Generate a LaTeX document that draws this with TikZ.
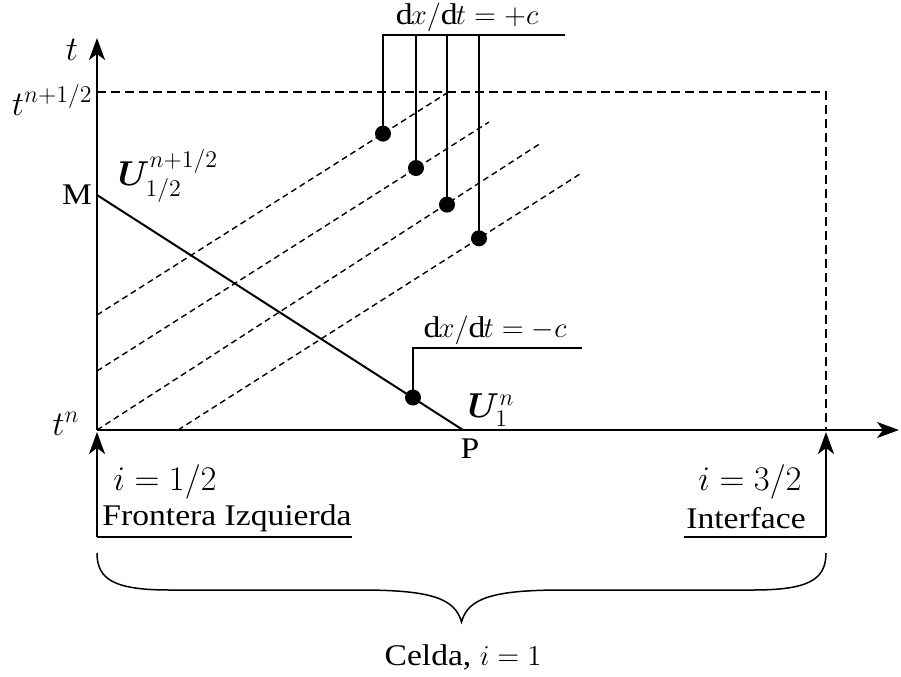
\documentclass[tikz,border=0pt]{standalone}
\usepackage{fontspec}
\setmainfont[FakeStretch=1.12]{Liberation Serif}
\usepackage{amsmath}
\usepackage{bm}
\usetikzlibrary{arrows.meta}
\tikzset{
  axis/.style={line width=1pt},
  solidln/.style={line width=1pt},
  leader/.style={line width=0.75pt},
  charln/.style={line width=0.7pt, dash pattern=on 3pt off 2pt},
  boxln/.style={line width=0.8pt, dash pattern=on 4.5pt off 2.5pt},
  tip/.style={-{Stealth[length=11pt,width=8pt,inset=3pt]}},
  dot/.style={circle, fill=black, inner sep=0pt, minimum size=8pt},
  lbl/.style={inner sep=0pt, font=\fontsize{15}{18}\selectfont},
  mlbl/.style={inner sep=0pt, font=\fontsize{16.5}{20}\selectfont},
}
\begin{document}
\begin{tikzpicture}[x=0.5pt,y=-0.5pt]
\useasboundingbox (0,0) rectangle (901,676);
% coordinates
\coordinate (O) at (97,430);
\coordinate (T) at (97,38);
\coordinate (X) at (899,430);
\coordinate (M) at (97,195);
\coordinate (P) at (463,430);
\coordinate (BL) at (97,537);
\coordinate (BR) at (826,537);
\coordinate (BLe) at (352,537);
\coordinate (BRs) at (684,537);
\coordinate (TL) at (97,92);
\coordinate (TR) at (826,92);
\coordinate (XR) at (826,430);
\coordinate (A1) at (97,315);  \coordinate (A2) at (447,93);
\coordinate (B1) at (97,371);  \coordinate (B2) at (489,122);
\coordinate (C2) at (541,143);
\coordinate (D1) at (178,430); \coordinate (D2) at (580,174);
\coordinate (H1) at (383,35);  \coordinate (H2) at (565,35);
\coordinate (L1) at (413,348); \coordinate (L2) at (582,348);

% dashed box
\draw[boxln] (TL) -- (TR) -- (XR);
% characteristic lines
\draw[charln] (A1) -- (A2);
\draw[charln] (B1) -- (B2);
\draw[charln] (O) -- (C2);
\draw[charln] (D1) -- (D2);
% M-P line
\draw[solidln] (M) -- (P);
% axes
\draw[axis,tip] (O) -- (T);
\draw[axis,tip] (O) -- (X);

% dots
\node[dot] (d1) at (383,133.6) {};
\node[dot] (d2) at (416,168) {};
\node[dot] (d3) at (447,204.6) {};
\node[dot] (d4) at (479,238.3) {};
\node[dot] (d5) at (413,397.5) {};

% leaders
\draw[leader] (H2) -- (H1) -- (d1.center);
\draw[leader] (d2.center) -- (d2.center |- H1);
\draw[leader] (d3.center) -- (d3.center |- H1);
\draw[leader] (d4.center) -- (d4.center |- H1);
\draw[leader] (d5.center) -- (L1) -- (L2);

% bottom markers
\draw[axis,tip] (BL) -- (97,432);
\draw[leader] (BL) -- (BLe);
\draw[axis,tip] (BR) -- (826,432);
\draw[leader] (BRs) -- (BR);

% brace
\draw[leader] (97,553) .. controls (97,580) and (115,590) .. (170,590)
  -- (360,590) .. controls (430,590) and (455,598) .. (461.5,622)
  .. controls (468,598) and (493,590) .. (563,590)
  -- (753,590) .. controls (808,590) and (826,580) .. (826,553);

% labels
\node[mlbl] (lt) at (72,50) {$t$};
\node[mlbl,anchor=east] (ltn) at (93,100) {$t^{n+1/2}$};
\node[lbl] (lM) at (77,195) {M};
\node[mlbl] (lU) at (168,176) {$\bm{U}^{n+1/2}_{1/2}$};
\node[mlbl] (ltn0) at (66,424) {$t^{n}$};
\node[lbl] (lP) at (470,449) {P};
\node[mlbl] (lUn) at (491,410) {$\bm{U}^{n}_{1}$};
\node[lbl] (lp) at (467,17) {$\mathrm{d}x/\mathrm{d}t=+c$};
\node[lbl] (lm) at (495,330) {$\mathrm{d}x/\mathrm{d}t=-c$};
\node[mlbl] (li1) at (165,482) {$i=1/2$};
\node[lbl] (lF) at (227,518) {Frontera Izquierda};
\node[mlbl] (li3) at (750,482) {$i=3/2$};
\node[lbl] (lI) at (746,518) {Interface};
\node[lbl] (lC) at (463,657) {Celda, $i=1$};
\end{tikzpicture}
\end{document}
